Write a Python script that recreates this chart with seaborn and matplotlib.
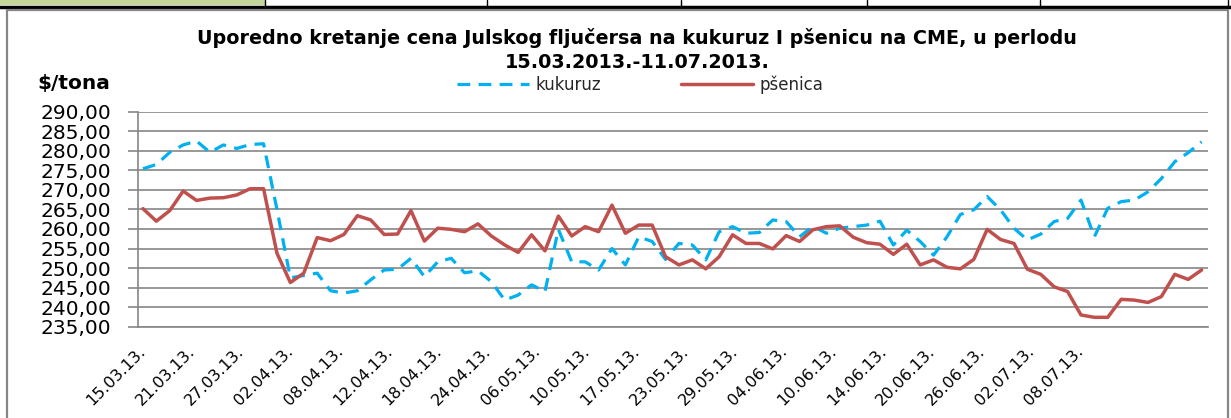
import numpy as np
import pandas as pd
import matplotlib
matplotlib.use("Agg")
import matplotlib.pyplot as plt
from matplotlib.lines import Line2D
from matplotlib.patches import Rectangle
import seaborn as sns

# cene julskog fjucersa, $/tona (ocitano sa grafika)
kukuruz = [275.4, 276.5, 279.6, 281.5, 282.5, 279.6, 281.5, 280.6, 281.6, 281.8,
           265.0, 247.5, 248.1, 248.7, 244.2, 243.6, 244.2, 247.0, 249.5, 249.7,
           252.5, 247.8, 251.6, 252.5, 248.8, 249.3, 246.5, 241.8, 243.1, 245.7,
           244.0, 259.9, 251.6, 251.6, 249.5, 255.0, 250.8, 258.0, 256.8, 252.2,
           256.3, 255.9, 252.1, 259.3, 260.6, 258.9, 259.1, 262.3, 261.9, 258.0,
           260.7, 258.9, 260.2, 260.6, 261.0, 262.0, 255.9, 259.7, 256.8, 253.3,
           258.0, 263.7, 264.9, 268.3, 264.9, 260.2, 257.2, 258.7, 261.9, 262.7,
           267.4, 258.0, 265.3, 267.0, 267.4, 269.5, 272.9, 277.2, 279.5, 282.3]
psenica = [265.2, 262.0, 264.7, 269.7, 267.3, 267.9, 268.0, 268.7, 270.3, 270.3,
           253.8, 246.3, 248.7, 257.8, 257.0, 258.6, 263.4, 262.3, 258.6, 258.7,
           264.7, 256.9, 260.2, 259.9, 259.3, 261.3, 258.2, 255.9, 254.0, 258.5,
           254.4, 263.3, 258.2, 260.6, 259.3, 266.1, 258.9, 261.0, 261.0, 252.9,
           250.8, 252.1, 249.8, 252.9, 258.5, 256.3, 256.3, 254.9, 258.3, 256.8,
           259.8, 260.6, 260.8, 257.9, 256.5, 256.1, 253.5, 256.1, 250.8, 252.1,
           250.2, 249.8, 252.2, 259.9, 257.3, 256.3, 249.7, 248.4, 245.2, 244.0,
           238.0, 237.4, 237.4, 242.0, 241.8, 241.2, 242.7, 248.4, 247.1, 249.5]
datumi = ['15.03.13.', '21.03.13.', '27.03.13.', '02.04.13.', '08.04.13.',
          '12.04.13.', '18.04.13.', '24.04.13.', '06.05.13.', '10.05.13.',
          '17.05.13.', '23.05.13.', '29.05.13.', '04.06.13.', '10.06.13.',
          '14.06.13.', '20.06.13.', '26.06.13.', '02.07.13.', '08.07.13.']
y_podeoci = list(range(235, 291, 5))

plava = '#00B0F0'
crvena = '#C0504D'
siva = '#868686'

sns.set_style("white")
plt.rcParams['font.family'] = ['DejaVu Sans']
plt.rcParams['text.color'] = 'black'
plt.rcParams['xtick.color'] = 'black'
plt.rcParams['ytick.color'] = 'black'

df = pd.DataFrame({'dan': np.arange(len(kukuruz)), 'kukuruz': kukuruz, 'psenica': psenica})

fig = plt.figure(figsize=(12.31, 4.18), dpi=100)

# gornji red tabele i okvir grafikona
fig.patches.append(Rectangle((0, 1 - 5 / 418), 265 / 1231, 5 / 418, transform=fig.transFigure,
                             facecolor='#C4D79B', edgecolor='none'))
fig.add_artist(Line2D([0, 1], [1 - 6.5 / 418] * 2, color='black', lw=2.5))
for xv in [265, 487, 681, 867, 1040, 1228]:
    fig.add_artist(Line2D([xv / 1231] * 2, [1, 1 - 6 / 418], color='black', lw=1))
fig.add_artist(Line2D([7 / 1231, 7 / 1231, 1228 / 1231, 1228 / 1231],
                      [0, 1 - 10 / 418, 1 - 10 / 418, 0], color=siva, lw=1.6))

ax = fig.add_axes([138 / 1231, 1 - 326.7 / 418, 1070 / 1231, 215 / 418])

sns.lineplot(data=df, x='dan', y='kukuruz', ax=ax, color=plava, lw=2.3, label='kukuruz')
sns.lineplot(data=df, x='dan', y='psenica', ax=ax, color=crvena, lw=2.5, label='pšenica')
ax.lines[0].set_dashes((4, 2.6))

ax.set_xlim(-0.37, 79.48)
ax.set_ylim(235, 290)
ax.set_yticks(y_podeoci)
ax.set_yticklabels([f"{v:.2f}".replace('.', ',') for v in y_podeoci])
ax.tick_params(axis='y', length=7, width=1.2, color=siva, labelcolor='black', pad=12,
               labelsize=14.5, left=True)
ax.grid(axis='y', color=siva, lw=1.2)
ax.grid(axis='x', visible=False)

ax.set_xticks(np.linspace(0, 70, len(datumi)))
ax.set_xticklabels(datumi, rotation=45, ha='right', va='center', rotation_mode='anchor', fontsize=11.5)
ax.tick_params(axis='x', length=0, pad=16, labelcolor='black')
ax.set_xlabel('')
ax.set_ylabel('')

for s in ['top', 'right']:
    ax.spines[s].set_visible(False)
for s in ['left', 'bottom']:
    ax.spines[s].set_color(siva)
    ax.spines[s].set_linewidth(1.2)

ax.legend(loc='center', bbox_to_anchor=(640 / 1231, 1 - 85 / 418), bbox_transform=fig.transFigure,
          ncol=2, frameon=False, handlelength=4.3, columnspacing=4.8, handletextpad=0.4,
          fontsize=12, labelcolor='#262626')

fig.text(637 / 1231, 1 - 38 / 418,
         'Uporedno kretanje cena Julskog fljučersa na kukuruz I pšenicu na CME, u perlodu',
         ha='center', va='center', fontsize=13.8, weight='bold')
fig.text(637 / 1231, 1 - 62 / 418, '15.03.2013.-11.07.2013.',
         ha='center', va='center', fontsize=13.8, weight='bold')
fig.text(37 / 1231, 1 - 83 / 418, '$/tona', ha='left', va='center', fontsize=14.5, weight='bold')

fig.savefig('out.png', dpi=100)
